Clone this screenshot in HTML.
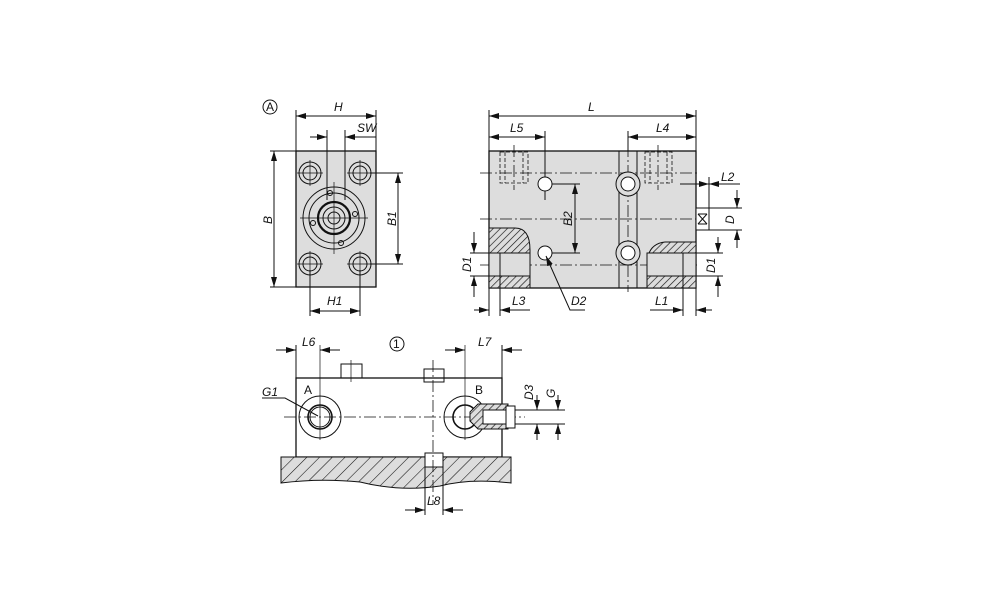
<!DOCTYPE html>
<html><head><style>body{margin:0;background:#fff}svg{display:block}text{font-family:"Liberation Sans",sans-serif;font-style:italic;font-size:12px;fill:#111}</style></head><body>
<svg width="1000" height="611" viewBox="0 0 1000 611" xmlns="http://www.w3.org/2000/svg">
<defs>
<pattern id="h" width="5" height="5" patternUnits="userSpaceOnUse" patternTransform="rotate(45)"><rect width="5" height="5" fill="#ddd"/><line x1="0" y1="0" x2="0" y2="5" stroke="#111" stroke-width="1.3"/></pattern>
<pattern id="h2" width="9" height="9" patternUnits="userSpaceOnUse" patternTransform="rotate(45)"><rect width="9" height="9" fill="#ddd"/><line x1="0" y1="0" x2="0" y2="9" stroke="#111" stroke-width="1.1"/></pattern>
<marker id="a" viewBox="0 0 10 6" refX="10" refY="3" markerWidth="10" markerHeight="6" orient="auto-start-reverse"><path d="M0,0L10,3L0,6z" fill="#111"/></marker>
</defs>
<g stroke="#111" fill="none" stroke-width="1">
<!-- View A -->
<circle cx="270" cy="107" r="7"/>
<rect x="296" y="151" width="80" height="136" fill="#ddd" stroke-width="1.3"/>
<line x1="296" y1="110" x2="296" y2="151"/><line x1="376" y1="110" x2="376" y2="151"/>
<line x1="296" y1="116" x2="376" y2="116" marker-start="url(#a)" marker-end="url(#a)"/>
<line x1="327" y1="130" x2="327" y2="200"/><line x1="345" y1="130" x2="345" y2="200"/>
<line x1="310" y1="137" x2="327" y2="137" marker-end="url(#a)"/><line x1="376" y1="137" x2="345" y2="137" marker-end="url(#a)"/>
<line x1="270" y1="151" x2="296" y2="151"/><line x1="270" y1="287" x2="296" y2="287"/>
<line x1="274" y1="151" x2="274" y2="287" marker-start="url(#a)" marker-end="url(#a)"/>
<line x1="370" y1="173" x2="403" y2="173"/><line x1="370" y1="264" x2="403" y2="264"/>
<line x1="398" y1="173" x2="398" y2="264" marker-start="url(#a)" marker-end="url(#a)"/>
<line x1="310" y1="270" x2="310" y2="316"/><line x1="360" y1="270" x2="360" y2="316"/>
<line x1="310" y1="311" x2="360" y2="311" marker-start="url(#a)" marker-end="url(#a)"/>
<g>
<circle cx="310" cy="173" r="11"/><circle cx="310" cy="173" r="7"/>
<circle cx="360" cy="173" r="11"/><circle cx="360" cy="173" r="7"/>
<circle cx="310" cy="264" r="11"/><circle cx="310" cy="264" r="7"/>
<circle cx="360" cy="264" r="11"/><circle cx="360" cy="264" r="7"/>
<path d="M297,173h26M310,160v26M347,173h26M360,160v26M297,264h26M310,251v26M347,264h26M360,251v26" stroke-width=".7"/>
<circle cx="334" cy="218" r="31"/><circle cx="334" cy="218" r="25"/>
<circle cx="334" cy="218" r="16" stroke-width="2.2"/><circle cx="334" cy="218" r="11"/><circle cx="334" cy="218" r="6"/>
<circle cx="330" cy="193" r="2.5"/><circle cx="355" cy="214" r="2.5"/><circle cx="313" cy="223" r="2.5"/><circle cx="341" cy="243" r="2.5"/>
<path d="M300,218h68M334,182v72" stroke-width=".7"/>
</g>
<!-- Side view -->
<rect x="489" y="151" width="207" height="137" fill="#ddd" stroke-width="1.3"/>
<line x1="489" y1="110" x2="489" y2="151"/><line x1="696" y1="110" x2="696" y2="151"/>
<line x1="489" y1="116" x2="696" y2="116" marker-start="url(#a)" marker-end="url(#a)"/>
<line x1="545" y1="131" x2="545" y2="200"/>
<line x1="489" y1="137" x2="545" y2="137" marker-start="url(#a)" marker-end="url(#a)"/>
<line x1="628" y1="131" x2="628" y2="151"/>
<line x1="628" y1="137" x2="696" y2="137" marker-start="url(#a)" marker-end="url(#a)"/>
<line x1="619" y1="151" x2="619" y2="288"/><line x1="637" y1="151" x2="637" y2="288"/>
<g stroke-dasharray="4,2" stroke-width=".8"><rect x="500" y="152" width="28" height="31"/><line x1="505" y1="152" x2="505" y2="183"/><line x1="523" y1="152" x2="523" y2="183"/><rect x="645" y="152" width="27" height="31"/><line x1="650" y1="152" x2="650" y2="183"/><line x1="667" y1="152" x2="667" y2="183"/></g>
<g stroke-dasharray="12,3,2,3" stroke-width=".8"><line x1="480" y1="173" x2="700" y2="173"/><line x1="480" y1="219" x2="700" y2="219"/><line x1="480" y1="265" x2="700" y2="265"/><line x1="514" y1="145" x2="514" y2="190"/><line x1="658" y1="145" x2="658" y2="190"/><line x1="628" y1="145" x2="628" y2="292"/></g>
<circle cx="545" cy="184" r="7" fill="#fff"/><circle cx="545" cy="253" r="7" fill="#fff"/>
<circle cx="628" cy="184" r="12" fill="#ddd"/><circle cx="628" cy="184" r="7" fill="#fff"/>
<circle cx="628" cy="253" r="12" fill="#ddd"/><circle cx="628" cy="253" r="7" fill="#fff"/>
<line x1="552" y1="184" x2="580" y2="184"/><line x1="552" y1="253" x2="580" y2="253"/>
<line x1="575" y1="184" x2="575" y2="253" marker-start="url(#a)" marker-end="url(#a)"/>
<path d="M489,228H515Q530,228 530,250V288H489Z" fill="url(#h)"/>
<rect x="489" y="253" width="41" height="23" fill="#ddd"/><line x1="500" y1="253" x2="500" y2="276"/><line x1="489" y1="253" x2="530" y2="253"/><line x1="489" y1="276" x2="530" y2="276"/>
<path d="M696,242H665Q647,244 647,265V288H696Z" fill="url(#h)"/>
<rect x="647" y="253" width="49" height="23" fill="#ddd"/><line x1="683" y1="253" x2="683" y2="276"/><line x1="647" y1="253" x2="696" y2="253"/><line x1="647" y1="276" x2="696" y2="276"/>
<rect x="696" y="208" width="13" height="22" fill="#fff"/><path d="M698,214l9,10M707,214l-9,10M698,214h9M698,224h9"/>
<line x1="470" y1="253" x2="489" y2="253"/><line x1="470" y1="276" x2="489" y2="276"/>
<line x1="474" y1="232" x2="474" y2="253" marker-end="url(#a)"/><line x1="474" y1="297" x2="474" y2="276" marker-end="url(#a)"/>
<line x1="696" y1="253" x2="723" y2="253"/><line x1="696" y1="276" x2="723" y2="276"/>
<line x1="718" y1="237" x2="718" y2="253" marker-end="url(#a)"/><line x1="718" y1="297" x2="718" y2="276" marker-end="url(#a)"/>
<line x1="709" y1="208" x2="742" y2="208"/><line x1="709" y1="230" x2="742" y2="230"/>
<line x1="737" y1="190" x2="737" y2="208" marker-end="url(#a)"/><line x1="737" y1="248" x2="737" y2="230" marker-end="url(#a)"/>
<line x1="709" y1="177" x2="709" y2="208"/>
<line x1="680" y1="184" x2="709" y2="184" marker-end="url(#a)"/><line x1="740" y1="184" x2="709" y2="184" marker-end="url(#a)"/>
<line x1="489" y1="288" x2="489" y2="316"/><line x1="500" y1="276" x2="500" y2="316"/>
<line x1="474" y1="310" x2="489" y2="310" marker-end="url(#a)"/><line x1="530" y1="310" x2="500" y2="310" marker-end="url(#a)"/>
<line x1="683" y1="276" x2="683" y2="316"/><line x1="696" y1="288" x2="696" y2="316"/>
<line x1="650" y1="310" x2="683" y2="310" marker-end="url(#a)"/><line x1="712" y1="310" x2="696" y2="310" marker-end="url(#a)"/>
<path d="M585,310H570L546,256" marker-end="url(#a)"/>
<!-- Bottom view -->
<circle cx="397" cy="344" r="7"/>
<rect x="296" y="378" width="206" height="79" stroke-width="1.3"/>
<rect x="341" y="364" width="21" height="14"/><line x1="351" y1="360" x2="351" y2="382" stroke-width=".7"/>
<path d="M424,372v-3h20v13h-20z"/>
<path d="M281,457H511V483Q470,478 440,486Q400,492 360,482Q320,478 281,483Z" fill="url(#h2)"/>
<rect x="425" y="453" width="18" height="14" fill="#fff"/>
<line x1="433" y1="360" x2="433" y2="505" stroke-dasharray="12,3,2,3" stroke-width=".8"/>
<line x1="284" y1="417" x2="525" y2="417" stroke-dasharray="12,3,2,3" stroke-width=".8"/>
<circle cx="320" cy="417" r="21"/><circle cx="320" cy="417" r="12" stroke-width="1.6"/><circle cx="320" cy="417" r="10"/>
<circle cx="465" cy="417" r="21"/><circle cx="465" cy="417" r="12" stroke-width="1.6"/>
<path d="M470,412L478,404H508V429H478L470,421Z" fill="url(#h)"/>
<rect x="483" y="410" width="23" height="14" fill="#fff"/><rect x="506" y="406" width="9" height="22" fill="#fff"/>
<line x1="320" y1="345" x2="320" y2="440" stroke-width=".7"/><line x1="296" y1="345" x2="296" y2="378"/>
<line x1="276" y1="350" x2="296" y2="350" marker-end="url(#a)"/><line x1="340" y1="350" x2="320" y2="350" marker-end="url(#a)"/>
<line x1="465" y1="345" x2="465" y2="440" stroke-width=".7"/><line x1="502" y1="345" x2="502" y2="378"/>
<line x1="445" y1="350" x2="465" y2="350" marker-end="url(#a)"/><line x1="522" y1="350" x2="502" y2="350" marker-end="url(#a)"/>
<line x1="425" y1="467" x2="425" y2="515"/><line x1="443" y1="467" x2="443" y2="515"/>
<line x1="405" y1="510" x2="425" y2="510" marker-end="url(#a)"/><line x1="463" y1="510" x2="443" y2="510" marker-end="url(#a)"/>
<path d="M262,398H285L318,416" />
<line x1="515" y1="410" x2="565" y2="410"/><line x1="515" y1="424" x2="565" y2="424"/>
<line x1="537" y1="395" x2="537" y2="410" marker-end="url(#a)"/><line x1="537" y1="440" x2="537" y2="424" marker-end="url(#a)"/>
<line x1="558" y1="395" x2="558" y2="410" marker-end="url(#a)"/><line x1="558" y1="440" x2="558" y2="424" marker-end="url(#a)"/>
</g>
<g>
<text x="266" y="111" font-size="10" style="font-style:normal">A</text>
<text x="334" y="111">H</text><text x="357" y="132">SW</text>
<text x="0" y="0" transform="translate(272,224) rotate(-90)">B</text>
<text x="0" y="0" transform="translate(396,226) rotate(-90)">B1</text>
<text x="327" y="305">H1</text>
<text x="588" y="111">L</text><text x="510" y="132">L5</text><text x="656" y="132">L4</text>
<text x="721" y="181">L2</text>
<text x="0" y="0" transform="translate(734,224) rotate(-90)">D</text>
<text x="0" y="0" transform="translate(572,226) rotate(-90)">B2</text>
<text x="0" y="0" transform="translate(471,272) rotate(-90)">D1</text>
<text x="0" y="0" transform="translate(715,273) rotate(-90)">D1</text>
<text x="512" y="305">L3</text><text x="571" y="305">D2</text><text x="655" y="305">L1</text>
<text x="393" y="348" font-size="10" style="font-style:normal">1</text>
<text x="302" y="346">L6</text><text x="478" y="346">L7</text>
<text x="304" y="394" style="font-style:normal">A</text><text x="475" y="394" style="font-style:normal">B</text>
<text x="262" y="396">G1</text><text x="427" y="505">L8</text>
<text x="0" y="0" transform="translate(533,400) rotate(-90)">D3</text>
<text x="0" y="0" transform="translate(555,398) rotate(-90)">G</text>
</g>
</svg>
</body></html>
